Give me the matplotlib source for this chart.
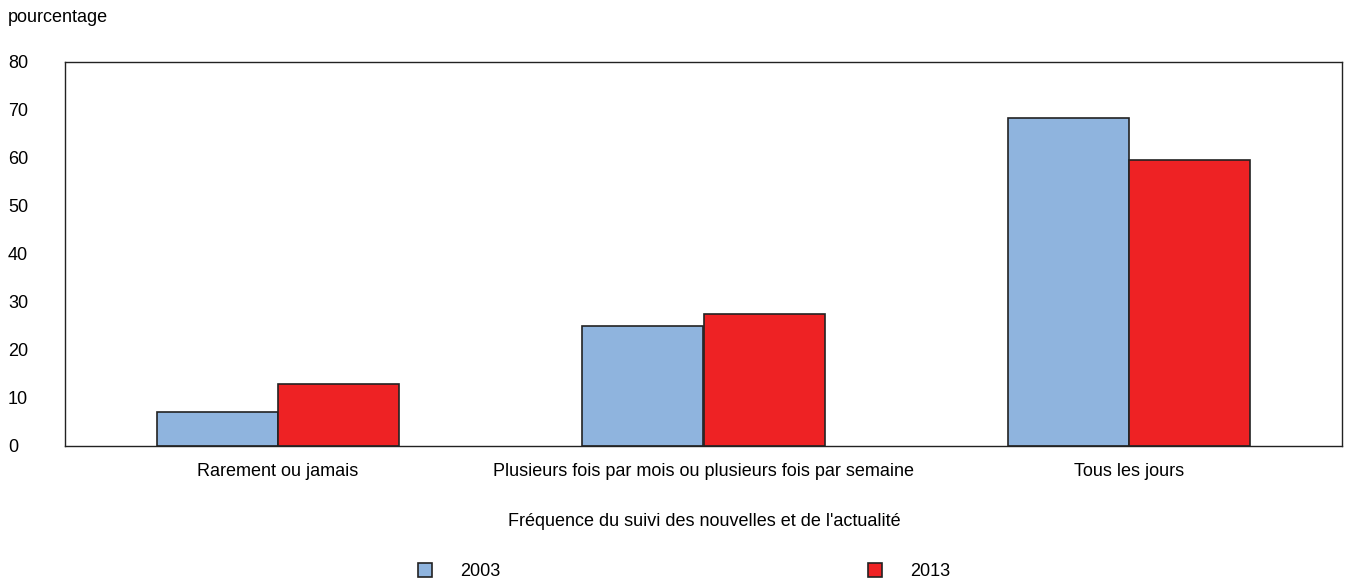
import matplotlib
matplotlib.use("Agg")
import matplotlib.pyplot as plt
import numpy as np

plt.rcParams['font.family'] = ['Liberation Sans', 'DejaVu Sans']
plt.rcParams['font.size'] = 13

# data
categories = ["Rarement ou jamais",
              "Plusieurs fois par mois ou plusieurs fois par semaine",
              "Tous les jours"]
years = ["2003", "2013"]
values_2003 = [7.0, 24.9, 68.3]
values_2013 = [12.9, 27.5, 59.6]
colors = ["#8FB4DE", "#EE2224"]

fig = plt.figure(figsize=(13.45, 5.79), dpi=100)
ax = fig.add_axes([65 / 1345, 1 - 446 / 579, 1277 / 1345, 384 / 579])

x = np.arange(len(categories))
w = 0.285
ax.bar(x - w / 2, values_2003, w, color=colors[0], edgecolor="#222222", linewidth=1.2)
ax.bar(x + w / 2, values_2013, w, color=colors[1], edgecolor="#222222", linewidth=1.2)

ax.set_xlim(-0.5, 2.5)
ax.set_ylim(0, 80)
ax.set_yticks(range(0, 81, 10))
ax.set_xticks(x)
ax.set_xticklabels(categories)
ax.tick_params(length=0)
ax.tick_params(axis='y', pad=41)
ax.tick_params(axis='x', pad=12)
for lab in ax.get_yticklabels():
    lab.set_horizontalalignment('left')
for s in ax.spines.values():
    s.set_color("#222222")
    s.set_linewidth(1.0)

fig.text(8 / 1345, 1 - 18 / 579, "pourcentage", fontsize=13, va='center', ha='left')
fig.text(704 / 1345, 1 - 521 / 579, "Fréquence du suivi des nouvelles et de l'actualité",
         fontsize=13, va='center', ha='center')

# legend, two entries spread apart
for i, yr in enumerate(years):
    px = [425, 875][i]
    fig.patches.append(matplotlib.patches.Rectangle(
        ((px - 7) / 1345, 1 - 577 / 579), 14 / 1345, 14 / 579,
        transform=fig.transFigure, facecolor=colors[i], edgecolor="#222222", linewidth=1.2))
    fig.text((px + 35) / 1345, 1 - 571 / 579, yr, fontsize=13, va='center', ha='left')

fig.savefig("out.png", dpi=100)
